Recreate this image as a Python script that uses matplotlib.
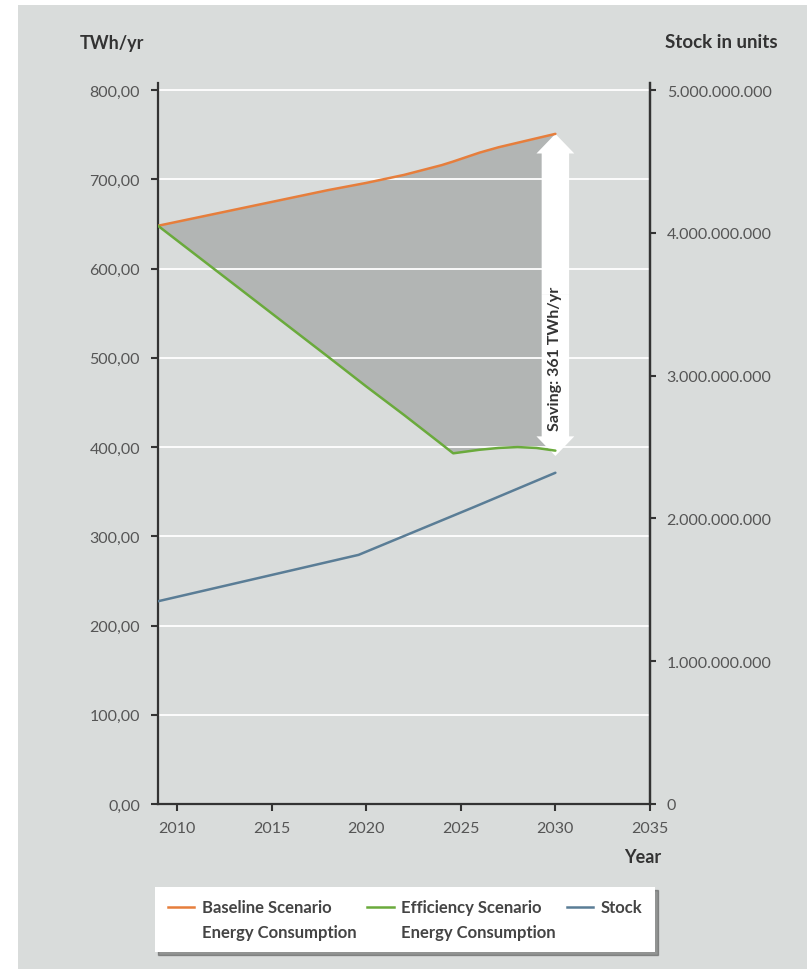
import matplotlib
matplotlib.use("Agg")
import matplotlib.pyplot as plt
from matplotlib.patches import FancyArrow, Rectangle
from matplotlib.lines import Line2D

# ---- data ----
years = [2009, 2018, 2020, 2022, 2024, 2024.6, 2026, 2027, 2028, 2029, 2030]
baseline = [648, 688, 696, 705, 716, 720, 730, 736, 741, 746, 751]
efficiency = [648, 501, 468, 436, 403, 393, 397, 399, 400, 399, 396]

stock_years = [2009, 2019.6, 2025.7, 2030]
stock = [1.42e9, 1.745e9, 2.08e9, 2.32e9]

saving = 361

x_ticks = [2010, 2015, 2020, 2025, 2030, 2035]
x_labels = ["2010", "2015", "2020", "2025", "2030", "2035"]
left_ticks = [0, 100, 200, 300, 400, 500, 600, 700, 800]
left_labels = ["0,00", "100,00", "200,00", "300,00", "400,00",
               "500,00", "600,00", "700,00", "800,00"]
right_ticks = [0, 1e9, 2e9, 3e9, 4e9, 5e9]
right_labels = ["0", "1.000.000.000", "2.000.000.000", "3.000.000.000",
                "4.000.000.000", "5.000.000.000"]

# ---- style ----
plt.rcParams["font.family"] = ["Lato", "DejaVu Sans"]
BG = "#d9dcdb"
FILL = "#b2b5b4"
ORANGE = "#e67e3c"
GREEN = "#6aaa3c"
BLUE = "#5a7d96"
DARK = "#333333"
TICKC = "#555555"

fig = plt.figure(figsize=(8.07, 9.70), dpi=100, facecolor="white")
fig.patches.append(Rectangle((18 / 807, 0), 1, 1 - 6 / 970,
                             transform=fig.transFigure, facecolor=BG,
                             edgecolor="none", zorder=-10))

ax = fig.add_axes([158 / 807, 1 - 805 / 970, (650 - 158) / 807, (805 - 84) / 970])
ax.set_facecolor(BG)
ax.set_xlim(2009, 2035)
ax.set_ylim(0, 808)

# savings area between the two scenarios
ax.fill_between(years, efficiency, baseline, color=FILL, linewidth=0, zorder=1)

# horizontal grid
for t in left_ticks[1:]:
    ax.axhline(t, color="white", linewidth=1.3, zorder=1.5)

ax.plot(years, baseline, color=ORANGE, linewidth=1.8, zorder=4, solid_capstyle="round")
ax.plot(years, efficiency, color=GREEN, linewidth=1.8, zorder=4, solid_capstyle="round")

# double-headed savings arrow
top = baseline[-1]
bottom = baseline[-1] - saving
mid = (top + bottom) / 2
for tip in (top, bottom):
    ax.add_patch(FancyArrow(years[-1], mid, 0, tip - mid, width=1.45,
                            head_width=2.0, head_length=22,
                            length_includes_head=True, facecolor="white",
                            edgecolor="none", zorder=3))
ax.text(years[-1], 500, f"Saving: {saving} TWh/yr", rotation=90,
        ha="center", va="center", fontsize=11.5, fontweight="bold",
        color=DARK, zorder=5)

# spines and ticks
ax.spines["top"].set_visible(False)
for side in ("left", "bottom", "right"):
    ax.spines[side].set_color(DARK)
    ax.spines[side].set_linewidth(1.6)

ax.set_xticks(x_ticks)
ax.set_xticklabels(x_labels)
ax.set_yticks(left_ticks)
ax.set_yticklabels(left_labels)
ax.tick_params(axis="both", colors=DARK, labelcolor=TICKC, labelsize=11.5,
               width=1.5, length=5, direction="out")
ax.tick_params(axis="y", pad=8)
ax.tick_params(axis="x", pad=7)

ax2 = ax.twinx()
ax2.set_ylim(0, 808 / 800 * 5e9)
ax2.plot(stock_years, stock, color=BLUE, linewidth=1.8, zorder=4, solid_capstyle="round")
ax2.set_yticks(right_ticks)
ax2.set_yticklabels(right_labels)
ax2.tick_params(axis="y", colors=DARK, labelcolor=TICKC, labelsize=11.5,
                width=1.5, length=4, direction="out", pad=8)
for side in ("top", "left", "bottom"):
    ax2.spines[side].set_visible(False)
ax2.spines["right"].set_color(DARK)
ax2.spines["right"].set_linewidth(1.6)

# axis titles
fig.text(80 / 807, 1 - 43 / 970, "TWh/yr", ha="left", va="center",
         fontsize=13, fontweight="bold", color=DARK)
fig.text(665 / 807, 1 - 43 / 970, "Stock in units", ha="left", va="center",
         fontsize=13.5, fontweight="bold", color=DARK)
fig.text(661 / 807, 1 - 858 / 970, "Year", ha="right", va="center",
         fontsize=13, fontweight="bold", color=DARK)

# legend: first line with handle, second line aligned under the text
blank = Line2D([], [], color="none")
handles = [Line2D([], [], color=ORANGE, linewidth=1.8), blank,
           Line2D([], [], color=GREEN, linewidth=1.8), blank,
           Line2D([], [], color=BLUE, linewidth=1.8), blank]
labels = ["Baseline Scenario", "Energy Consumption",
          "Efficiency Scenario", "Energy Consumption",
          "Stock", ""]
leg = fig.legend(handles, labels, ncol=3, loc="upper left",
                 bbox_to_anchor=(155 / 807, 1 - 888 / 970),
                 frameon=True, fancybox=False, shadow=True,
                 facecolor="white", edgecolor="none", framealpha=1,
                 handlelength=1.6, handletextpad=0.45, columnspacing=0.65,
                 labelspacing=0.5, borderpad=0.75, borderaxespad=0,
                 prop={"weight": "bold", "size": 12})
for t in leg.get_texts():
    t.set_color("#444444")

fig.savefig("out.png", dpi=100, facecolor="white")
